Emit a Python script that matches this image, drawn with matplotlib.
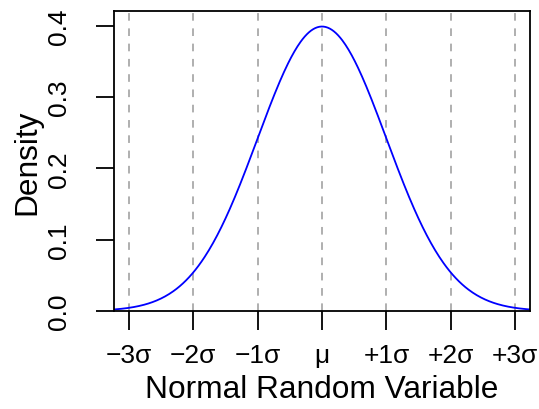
import matplotlib
matplotlib.use("Agg")
import matplotlib.pyplot as plt
import numpy as np

plt.rcParams['font.family'] = ['Liberation Sans', 'DejaVu Sans']

# normal distribution parameters
mu = 0.0
sigma = 1.0
sd_steps = [-3, -2, -1, 0, 1, 2, 3]
x_labels = ['\u22123\u03c3', '\u22122\u03c3', '\u22121\u03c3', '\u03bc', '+1\u03c3', '+2\u03c3', '+3\u03c3']
y_ticks = [0.0, 0.1, 0.2, 0.3, 0.4]
y_labels = ['0.0', '0.1', '0.2', '0.3', '0.4']

x = np.linspace(mu - 3.23 * sigma, mu + 3.23 * sigma, 400)
dens = np.exp(-0.5 * ((x - mu) / sigma) ** 2) / (sigma * np.sqrt(2 * np.pi))

fig = plt.figure(figsize=(5.39, 4.10), dpi=100)
ax = fig.add_axes([0.2115, 0.239, 0.7718, 0.7317])

xt = [mu + k * sigma for k in sd_steps]
for v in xt:
    ax.axvline(v, color='#9a9a9a', lw=1.1, ls=(0, (5, 5)), zorder=1)
ax.plot(x, dens, color='#0000ff', lw=1.3, zorder=2)

ax.set_xlim(mu - 3.23 * sigma, mu + 3.23 * sigma)
ax.set_ylim(0, 0.4207)
ax.set_xticks(xt)
ax.set_xticklabels(x_labels)
ax.set_yticks(y_ticks)
ax.set_yticklabels(y_labels, rotation=90, va='center')

for s in ax.spines.values():
    s.set_linewidth(1.3)
ax.tick_params(axis='x', length=14, width=1.3, pad=9, labelsize=19)
ax.tick_params(axis='y', length=13, width=1.3, pad=18, labelsize=19)

ax.set_xlabel('Normal Random Variable', fontsize=22.8, labelpad=5)
ax.set_ylabel('Density', fontsize=22.8, labelpad=3)

fig.savefig('out.png', dpi=100)
